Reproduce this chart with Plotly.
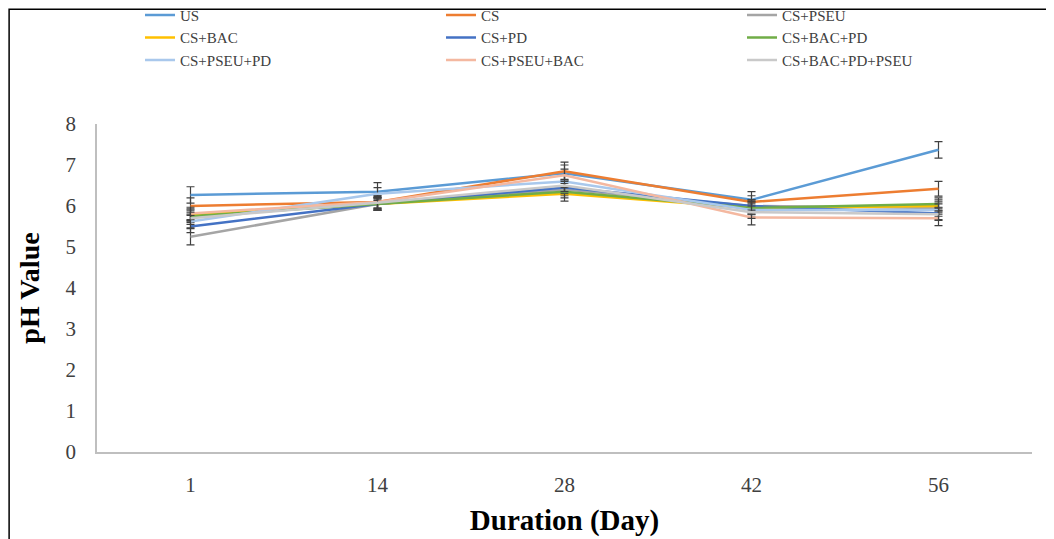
import plotly.graph_objects as go

days = ["1", "14", "28", "42", "56"]

series_names = ["US", "CS", "CS+PSEU", "CS+BAC", "CS+PD", "CS+BAC+PD",
                "CS+PSEU+PD", "CS+PSEU+BAC", "CS+BAC+PD+PSEU"]

us = [6.27, 6.35, 6.80, 6.15, 7.37]
cs = [6.00, 6.10, 6.85, 6.10, 6.42]
cs_pseu = [5.25, 6.05, 6.40, 6.00, 5.95]
cs_bac = [5.78, 6.05, 6.30, 5.95, 6.00]
cs_pd = [5.50, 6.05, 6.45, 6.00, 5.82]
cs_bac_pd = [5.75, 6.05, 6.35, 5.95, 6.05]
cs_pseu_pd = [5.62, 6.30, 6.60, 5.90, 5.90]
cs_pseu_bac = [5.82, 6.10, 6.75, 5.72, 5.70]
cs_bac_pd_pseu = [5.70, 6.08, 6.50, 5.85, 5.80]

err_us = [0.20, 0.22, 0.20, 0.20, 0.20]
err_cs = [0.20, 0.15, 0.22, 0.15, 0.18]
err_cs_pseu = [0.20, 0.15, 0.15, 0.15, 0.15]
err_cs_bac = [0.15, 0.15, 0.18, 0.15, 0.15]
err_cs_pd = [0.15, 0.15, 0.15, 0.15, 0.15]
err_cs_bac_pd = [0.15, 0.15, 0.15, 0.15, 0.15]
err_cs_pseu_pd = [0.15, 0.15, 0.15, 0.15, 0.15]
err_cs_pseu_bac = [0.15, 0.15, 0.15, 0.18, 0.18]
err_cs_bac_pd_pseu = [0.15, 0.15, 0.15, 0.15, 0.15]

values = [us, cs, cs_pseu, cs_bac, cs_pd, cs_bac_pd, cs_pseu_pd, cs_pseu_bac, cs_bac_pd_pseu]
errors = [err_us, err_cs, err_cs_pseu, err_cs_bac, err_cs_pd, err_cs_bac_pd,
          err_cs_pseu_pd, err_cs_pseu_bac, err_cs_bac_pd_pseu]
colors = ["#5B9BD5", "#ED7D31", "#A5A5A5", "#FFC000", "#4472C4", "#70AD47",
          "#A9C8EC", "#F4B8A0", "#C9C9C9"]

FONT = "Liberation Serif"

fig = go.Figure()
for name, vals, errs, col in zip(series_names, values, errors, colors):
    fig.add_trace(go.Scatter(
        x=days, y=vals, name=name, mode="lines",
        line=dict(color=col, width=2.5),
        error_y=dict(type="data", array=errs, visible=True,
                     color="#404040", thickness=1.2, width=4),
    ))

# page body has an 8px margin: figure is sized/offset to compensate
fig.update_layout(
    width=1046, height=531,
    paper_bgcolor="white", plot_bgcolor="white",
    margin=dict(l=89, r=22, t=116, b=87, autoexpand=False),
    font=dict(family=FONT, color="#404040"),
    showlegend=True,
    legend=dict(
        orientation="h", x=0.046, y=1.382, xanchor="left", yanchor="top",
        entrywidth=256, entrywidthmode="pixels",
        font=dict(family=FONT, size=15, color="#404040"),
        tracegroupgap=0, bgcolor="rgba(0,0,0,0)",
    ),
    xaxis=dict(
        type="category", range=[-0.5, 4.5],
        showline=True, linecolor="#BFBFBF", linewidth=1.5,
        showgrid=False, ticks="", zeroline=False, ticklabelstandoff=13,
        tickfont=dict(family=FONT, size=21, color="#404040"),
        title=dict(text="<b>Duration (Day)</b>", standoff=14,
                   font=dict(family=FONT, size=29, color="black")),
    ),
    yaxis=dict(
        range=[0, 8], dtick=1,
        showline=True, linecolor="#BFBFBF", linewidth=1.5,
        showgrid=False, ticks="", zeroline=False, ticklabelstandoff=15,
        tickfont=dict(family=FONT, size=21, color="#404040"),
        title=dict(text="<b>pH Value</b>", standoff=18,
                   font=dict(family=FONT, size=28, color="black")),
    ),
    shapes=[dict(type="rect", xref="paper", yref="paper",
                 x0=-0.094, x1=1.025, y0=-0.4, y1=1.35,
                 line=dict(color="black", width=1.5), fillcolor="rgba(0,0,0,0)",
                 layer="below")],
)

fig.write_html("out.html")
